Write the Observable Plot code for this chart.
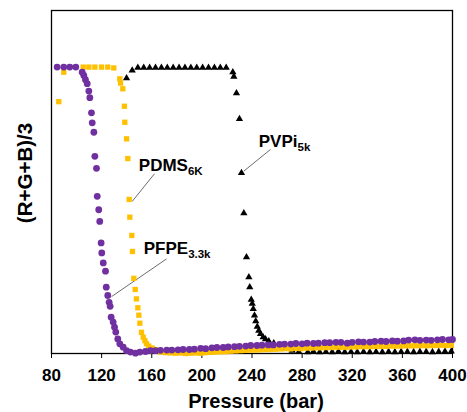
<!DOCTYPE html>
<html>
<head>
<meta charset="utf-8">
<script src="https://cdn.jsdelivr.net/npm/d3@7"></script>
<script src="https://cdn.jsdelivr.net/npm/@observablehq/plot@0.6"></script>
<style>
  html, body { margin: 0; padding: 0; background: #fff; }
  #chart { width: 467px; height: 412px; }
</style>
</head>
<body>
<div id="chart"></div>
<script>
// ---- Data ----
const xTicks = [80, 120, 160, 200, 240, 280, 320, 360, 400];
const xLabel = "Pressure (bar)";
const yLabel = "(R+G+B)/3";

// PFPE 3.3k (purple circles)
const pfpePressure = [84.5, 89.8, 94.6, 99.4, 104.5, 105.8, 107.1, 108.5, 109.8, 110.6, 111.9, 112.5, 113.8, 114.6, 115.9, 116.5, 117.7, 118.5, 119.6, 120.1, 121.3, 123.1, 123.7, 124.9, 126.0, 126.8, 127.6, 129.2, 130.3, 131.3, 132.9, 134.5, 137.2, 139.9, 143.0, 147.0, 150.5, 155.0, 159.0,
  163, 167, 172, 176, 181, 185, 190, 194, 199, 203, 208, 212, 217, 221, 226, 230, 235, 239, 244, 248, 253, 257, 262, 266, 271, 275, 280, 284, 289, 293, 298, 302, 307, 311, 316, 320, 325, 329, 334, 338, 343, 347, 352, 356, 361, 365, 370, 374, 379, 383, 388, 392, 397, 400];
const pfpeValue = [100.2, 100.2, 100.2, 100.2, 98.4, 97.3, 95.8, 94.4, 91.8, 89.5, 84.2, 80.7, 77.4, 69.0, 64.8, 55.0, 50.3, 46.2, 38.7, 35.2, 31.7, 28.8, 23.2, 20.3, 17.9, 16.5, 12.7, 11.0, 9.2, 7.5, 5.1, 3.4, 2.2, 1.0, 0.5, 0.1, 0.5, 0.7, 1.0,
  1.0, 1.1, 1.2, 1.2, 1.3, 1.4, 1.4, 1.5, 1.8, 1.7, 2.0, 2.1, 2.1, 2.3, 2.4, 2.5, 2.6, 2.8, 2.8, 2.9, 3.0, 3.0, 3.2, 3.3, 3.3, 3.5, 3.4, 3.6, 3.5, 3.6, 3.8, 3.8, 3.9, 3.9, 3.6, 3.9, 4.1, 4.0, 4.0, 4.2, 4.3, 4.2, 4.4, 4.3, 4.4, 4.7, 4.8, 4.6, 4.7, 4.6, 4.8, 4.9, 4.8, 4.9];

// PDMS 6K (yellow squares)
const pdmsPressure = [85.8, 89.8, 105.3, 109.8, 114.6, 119.9, 124.9, 129.7, 134.5, 135.1, 136.9, 138.2, 138.5, 139.9, 140.9, 142.0, 142.5, 144.1, 144.6, 145.7, 146.8, 147.8, 148.9, 149.7, 150.5, 151.8, 153.2, 154.5, 155.8, 157.6, 160.4, 163.0, 167.0,
  171, 175, 179, 183, 187, 191, 195, 199, 203, 207, 211, 215, 219, 223, 227, 231, 235, 239, 243, 247, 251, 255, 259, 263, 267, 271, 275, 279, 283, 287, 291, 295, 299, 303, 307, 311, 315, 319, 323, 327, 331, 335, 339, 343, 347, 351, 355, 359, 363, 367, 371, 375, 379, 383, 387, 391, 395, 399];
const pdmsValue = [88.1, 98.4, 100.2, 100.2, 100.2, 100.2, 100.2, 99.9, 96.1, 94.6, 92.6, 86.5, 80.9, 75.1, 68.2, 53.9, 47.7, 41.3, 35.7, 26.3, 22.4, 19.1, 16.0, 13.4, 10.6, 7.4, 5.7, 4.5, 3.4, 2.6, 1.9, 1.3, 0.5,
  0.3, 0.2, 0.1, 0.2, 0.0, 0.1, 0.2, 0.1, 0.3, 0.4, 0.5, 0.6, 0.6, 0.8, 0.9, 1.0, 1.1, 1.2, 1.2, 1.3, 1.4, 1.4, 1.5, 1.6, 1.7, 1.6, 1.8, 1.7, 1.9, 1.9, 2.0, 2.0, 2.1, 2.1, 2.2, 2.2, 2.2, 2.3, 2.3, 2.4, 2.4, 2.4, 2.5, 2.5, 2.5, 2.6, 2.6, 2.6, 2.7, 2.7, 2.7, 2.8, 2.7, 2.8, 2.8, 2.9, 2.8, 2.9];

// PVPi 5k (black triangles)
const pvpiPressure = [139.9, 144.4, 148.9, 153.6, 158.3, 163.0, 167.7, 172.4, 177.1, 181.8, 186.5, 191.2, 195.9, 200.6, 205.3, 210.0, 214.7, 219.4, 224.7, 225.5, 227.6, 230.0, 231.6, 233.5, 235.6, 237.5, 238.2, 239.4, 240.2, 241.0, 242.0, 243.0, 244.2, 245.4, 246.8, 248.9, 250.8, 253.4, 257.4, 262.2, 266.7, 272.1, 277.4, 284.5,
  289, 294, 299, 304, 309, 314, 319, 324, 329, 334, 339, 344, 349, 354, 359, 364, 369, 374, 379, 384, 389, 394, 399];
const pvpiValue = [96.3, 99.0, 100.0, 100.0, 100.0, 100.0, 100.0, 100.0, 100.0, 100.0, 100.0, 100.0, 100.0, 100.0, 100.0, 100.0, 100.0, 100.0, 98.4, 96.9, 91.1, 82.1, 63.2, 49.1, 33.7, 26.7, 23.2, 18.8, 17.4, 15.6, 13.3, 11.3, 9.4, 8.0, 6.9, 5.7, 5.0, 4.3, 3.6, 2.8, 1.9, 1.0, 0.6, 0.5,
  0.7, 0.5, 0.6, 0.5, 0.7, 0.5, 0.6, 0.5, 0.6, 0.5, 0.6, 0.5, 0.6, 0.5, 0.6, 0.6, 0.5, 0.6, 0.6, 0.5, 0.6, 0.7, 0.7];

// Annotation labels (main text, subscript, anchor, leader line)
const labelNames = ["PDMS", "PFPE", "PVPi"];
const labelSubs = ["6K", "3.3k", "5k"];
const labelX = [149.7, 153.6, 245.4];
const labelY = [63.8, 34.9, 72.4];
const leaderX1 = [162.2, 171.8, 254.8];
const leaderY1 = [62.9, 33.1, 71.4];
const leaderX2 = [144.4, 127.9, 233.5];
const leaderY2 = [53.2, 19.9, 63.8];

// ---- Build tables ----
const zip = (xs, ys) => xs.map((x, i) => ({x, y: ys[i]}));
const pfpe = zip(pfpePressure, pfpeValue);
const pdms = zip(pdmsPressure, pdmsValue);
const pvpi = zip(pvpiPressure, pvpiValue);
const labels = labelNames.map((t, i) => ({
  text: t, sub: labelSubs[i], x: labelX[i], y: labelY[i],
  x1: leaderX1[i], y1: leaderY1[i], x2: leaderX2[i], y2: leaderY2[i]
}));

const font = "Arial, 'Liberation Sans', Helvetica, sans-serif";

const chart = Plot.plot({
  width: 467,
  height: 412,
  marginLeft: 51,
  marginRight: 15,
  marginTop: 10,
  marginBottom: 59,
  style: {fontFamily: font, fontWeight: "bold", background: "white", color: "black", overflow: "visible"},
  x: {domain: [80, 400]},
  y: {domain: [0, 120], axis: null},
  marks: [
    Plot.frame({stroke: "black", strokeWidth: 1.3}),
    Plot.axisX({ticks: xTicks, tickSize: 5, tickPadding: 10, fontSize: 17, label: null, tickFormat: d => String(d)}),
    Plot.link(labels, {x1: "x1", y1: "y1", x2: "x2", y2: "y2", stroke: "#6b6b6b", strokeWidth: 1}),
    Plot.dot(pvpi, {x: "x", y: "y", symbol: "triangle", r: 2.7, fill: "black", stroke: "none"}),
    Plot.dot(pdms, {x: "x", y: "y", symbol: "square", r: 3.0, fill: "#FFC000", stroke: "none"}),
    Plot.dot(pfpe, {x: "x", y: "y", symbol: "circle", r: 3.4, fill: "#7030A0", stroke: "none"}),
    Plot.text(labels, {x: "x", y: "y", text: "text", textAnchor: "start", lineAnchor: "bottom", fontSize: 17, fill: "black"}),
    Plot.text([yLabel], {text: d => d, frameAnchor: "left", textAnchor: "middle", rotate: -90, dx: -26, dy: -9, fontSize: 20.5, fill: "black"}),
    Plot.text([xLabel], {text: d => d, frameAnchor: "bottom", dx: 4, dy: 54, lineAnchor: "bottom", fontSize: 20, fill: "black"})
  ]
});

// add subscripts to the annotation labels
chart.querySelectorAll("text").forEach(el => {
  const i = labelNames.indexOf(el.textContent);
  if (i >= 0) {
    const ts = document.createElementNS("http://www.w3.org/2000/svg", "tspan");
    ts.setAttribute("font-size", "11.5");
    ts.setAttribute("dy", "4");
    ts.textContent = labelSubs[i];
    el.appendChild(ts);
  }
});

document.getElementById("chart").appendChild(chart);
</script>
</body>
</html>
